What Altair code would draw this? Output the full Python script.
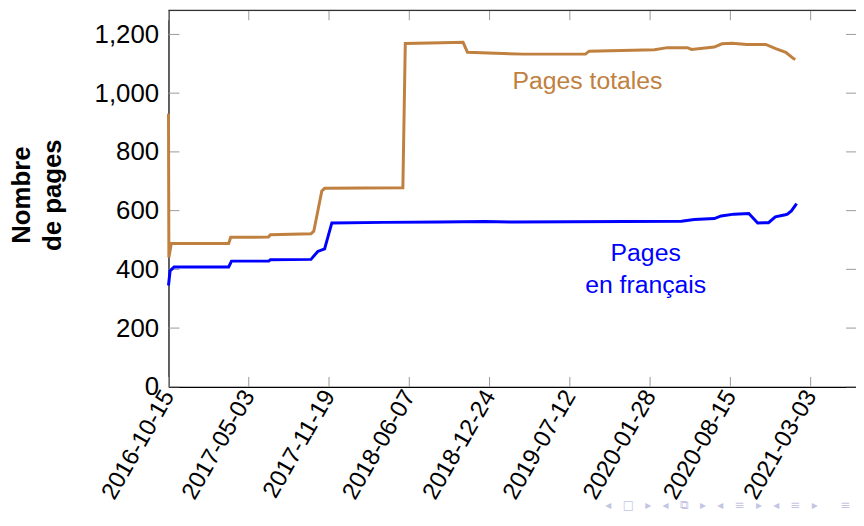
import altair as alt
import pandas as pd

# ---- data ----
total_dates = ["2016-10-15", "2016-10-16", "2016-10-22", "2017-03-14", "2017-03-19",
               "2017-06-21", "2017-06-26", "2017-10-05", "2017-10-12", "2017-11-01",
               "2017-11-08", "2018-05-22", "2018-05-28", "2018-08-27", "2018-10-19",
               "2018-10-30", "2019-03-17", "2019-08-20", "2019-08-29", "2020-02-08",
               "2020-03-11", "2020-04-30", "2020-05-10", "2020-07-06", "2020-07-25",
               "2020-08-19", "2020-09-25", "2020-11-11", "2020-12-06", "2020-12-31",
               "2021-01-19", "2021-01-24"]
total_values = [930, 440, 488, 488, 509,
                510, 518, 521, 530, 667,
                676, 678, 1169, 1172, 1173,
                1139, 1133, 1133, 1143, 1148,
                1155, 1155, 1149, 1157, 1168,
                1170, 1166, 1166, 1152, 1139,
                1118, 1115]

fr_dates = ["2016-10-15", "2016-10-19", "2016-10-29", "2017-03-14", "2017-03-21",
            "2017-06-22", "2017-06-26", "2017-10-05", "2017-10-22", "2017-11-08",
            "2017-11-26", "2018-04-03", "2018-08-22", "2018-12-11", "2019-02-22",
            "2020-04-15", "2020-05-17", "2020-07-06", "2020-07-23", "2020-08-24",
            "2020-09-30", "2020-10-22", "2020-11-18", "2020-12-05", "2020-12-30",
            "2021-01-04", "2021-01-14", "2021-01-27"]
fr_values = [345, 395, 408, 408, 428,
             428, 433, 434, 461, 470,
             558, 560, 561, 563, 561,
             564, 570, 573, 582, 588,
             590, 558, 559, 579, 586,
             588, 599, 624]

x_tick_labels = ["2016-10-15", "2017-05-03", "2017-11-19", "2018-06-07", "2018-12-24",
                 "2019-07-12", "2020-01-28", "2020-08-15", "2021-03-03"]
y_tick_values = [0, 200, 400, 600, 800, 1000, 1200]
x_domain = ["2016-10-15", "2021-06-24"]
y_domain = [0, 1282]

label_texts = ["Pages totales", "Pages", "en français"]
label_dates = ["2019-08-25", "2020-01-17", "2020-01-17"]
label_values = [1015, 428, 320]
label_colors = ["#BF8040", "#0000FF", "#0000FF"]

nav_symbols = ["◂", "□", "▸", "◂", "⧉", "▸", "◂", "≡", "▸", "◂", "≡", "▸", "", "≡"]

ORANGE = "#BF8040"
BLUE = "#0000FF"
FONT = "Liberation Sans"
W, H = 694, 380


def dt(s):
    y, m, d = (int(p) for p in s.split("-"))
    return alt.DateTime(year=y, month=m, date=d, utc=True)


total_df = pd.DataFrame({"date": total_dates, "value": total_values})
fr_df = pd.DataFrame({"date": fr_dates, "value": fr_values})
labels_df = pd.DataFrame({"text": label_texts, "date": label_dates,
                          "value": label_values, "color": label_colors})
xt_df = pd.DataFrame({"date": x_tick_labels})
yt_df = pd.DataFrame({"value": y_tick_values})

xscale = alt.Scale(type="utc", domain=[dt(x_domain[0]), dt(x_domain[1])])
yscale = alt.Scale(domain=y_domain, nice=False, zero=False)

xaxis = alt.Axis(values=[dt(s) for s in x_tick_labels], format="%Y-%m-%d",
                 labelAngle=300, labelAlign="right", labelBaseline="middle",
                 labelPadding=5, labelFontSize=24, labelFont=FONT, labelColor="black",
                 labelFlush=False, labelOverlap=False, ticks=False, grid=False,
                 domainColor="black", domainWidth=1.2, title=None)
yaxis = alt.Axis(values=y_tick_values, format=",.0f", labelFontSize=26, labelFont=FONT,
                 labelColor="black", labelPadding=10, labelFlush=False,
                 labelOverlap=False, ticks=False, grid=False,
                 domainColor="black", domainWidth=1.2,
                 title=["Nombre", "de pages"], titleFont=FONT, titleFontSize=26,
                 titleFontWeight="bold", titleColor="black", titleAngle=270,
                 titleAlign="center", titleBaseline="alphabetic", titleLineHeight=31,
                 titleX=-140, titleY=186)

X = alt.X("date:T", scale=xscale, axis=xaxis)
Y = alt.Y("value:Q", scale=yscale, axis=yaxis)

total_line = alt.Chart(total_df).mark_line(color=ORANGE, strokeWidth=3).encode(x=X, y=Y)
fr_line = alt.Chart(fr_df).mark_line(color=BLUE, strokeWidth=3).encode(x=X, y=Y)

texts = alt.Chart(labels_df).mark_text(font=FONT, fontSize=25, align="center",
                                       baseline="alphabetic").encode(
    x="date:T", y="value:Q", text="text:N",
    color=alt.Color("color:N", scale=None))

tick_color = "#9a9a9a"
left_ticks = alt.Chart(yt_df).mark_rule(color=tick_color, strokeWidth=1).encode(
    y="value:Q", x=alt.value(0), x2=alt.value(11))
right_ticks = alt.Chart(yt_df).mark_rule(color=tick_color, strokeWidth=1).encode(
    y="value:Q", x=alt.value(W - 10), x2=alt.value(W))
bottom_ticks = alt.Chart(xt_df).mark_rule(color=tick_color, strokeWidth=1).encode(
    x="date:T", y=alt.value(H), y2=alt.value(H - 10))
top_ticks = alt.Chart(xt_df).mark_rule(color=tick_color, strokeWidth=1).encode(
    x="date:T", y=alt.value(0), y2=alt.value(10))
top_frame = alt.Chart(alt.Data(values=[{}])).mark_rule(color="#333333", strokeWidth=1.2).encode(
    x=alt.value(0), x2=alt.value(W), y=alt.value(0))

NB = "\u00a0"
nav_text = (NB * 3).join(nav_symbols)
nav = alt.Chart(alt.Data(values=[{}])).mark_text(
    text=nav_text, font="DejaVu Sans", fontSize=12,
    color="#c4c4e4", align="left", baseline="middle").encode(
    x=alt.value(441), y=alt.value(H + 119))

chart = alt.layer(
    left_ticks, right_ticks, bottom_ticks, top_ticks, top_frame,
    total_line, fr_line, texts, nav
).properties(
    width=W, height=H,
    padding={"left": 162, "top": 0, "right": 0, "bottom": 126},
    autosize=alt.AutoSizeParams(type="none"),
).configure_view(stroke=None).configure(background="white")

chart.save("out.html", embed_options={"renderer": "svg", "actions": False})
